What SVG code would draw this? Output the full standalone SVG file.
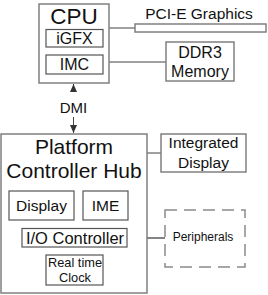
<svg xmlns="http://www.w3.org/2000/svg" width="268" height="295" viewBox="0 0 268 295">
<style>
.b{fill:#fff;stroke:#808080;stroke-width:1.5}
.i{fill:#fff;stroke:#555;stroke-width:1.2}
.t{font-family:"Liberation Sans",Arial,sans-serif;fill:#111;text-anchor:middle}
.c{stroke:#808080;stroke-width:1.5;fill:none}
</style>
<defs>
<marker id="ah" viewBox="0 0 8 8" refX="8" refY="4" markerWidth="8" markerHeight="8" markerUnits="userSpaceOnUse" orient="auto">
<path d="M0,0.5 L8,4 L0,7.5 Z" fill="#333"/>
</marker>
</defs>
<rect width="268" height="295" fill="#fff"/>
<g id="connectors">
<line class="c" x1="109" y1="28" x2="135" y2="28"/>
<line class="c" x1="109" y1="62" x2="166" y2="62"/>
<line class="c" x1="147" y1="153" x2="161" y2="153"/>
<line x1="147" y1="238" x2="165" y2="238" stroke="#333" stroke-width="1.2"/>
<line x1="73.5" y1="92" x2="73.5" y2="84" stroke="#444" stroke-width="1" marker-end="url(#ah)"/>
<line x1="73.5" y1="117" x2="73.5" y2="133" stroke="#444" stroke-width="1" marker-end="url(#ah)"/>
<text class="t" x="73.5" y="113" font-size="15">DMI</text>
</g>
<g id="cpu">
<rect class="b" x="39" y="4" width="70" height="79"/>
<text class="t" x="74" y="24" font-size="22.5">CPU</text>
</g>
<g id="igfx">
<rect class="i" x="46" y="29.5" width="57" height="17.5"/>
<text class="t" x="74.5" y="43.5" font-size="16">iGFX</text>
</g>
<g id="imc">
<rect class="i" x="46" y="55" width="57" height="19"/>
<text class="t" x="74.5" y="70" font-size="16">IMC</text>
</g>
<g id="pcie">
<rect class="b" x="135" y="24" width="131" height="8"/>
<text class="t" x="199" y="19" font-size="15.5">PCI-E Graphics</text>
</g>
<g id="ddr3">
<rect class="b" x="166" y="42" width="68" height="39"/>
<text class="t" x="200" y="58" font-size="16">DDR3</text>
<text class="t" x="200" y="77" font-size="16">Memory</text>
</g>
<g id="pch">
<rect class="b" x="1" y="134" width="146" height="159"/>
<text class="t" x="74" y="153.5" font-size="21">Platform</text>
<text class="t" x="74" y="177.5" font-size="21">Controller Hub</text>
</g>
<g id="intdisplay">
<rect class="b" x="161" y="134" width="85" height="38"/>
<text class="t" x="203.5" y="148" font-size="15.5">Integrated</text>
<text class="t" x="203.5" y="167.5" font-size="15.5">Display</text>
</g>
<g id="display">
<rect class="i" x="9" y="191" width="65" height="29"/>
<text class="t" x="41.5" y="211" font-size="15.5">Display</text>
</g>
<g id="ime">
<rect class="i" x="83" y="191" width="45" height="29"/>
<text class="t" x="105.5" y="211" font-size="15.5">IME</text>
</g>
<g id="io">
<rect class="i" x="22" y="228.5" width="105" height="18.5"/>
<text class="t" x="75" y="243.5" font-size="16.5">I/O Controller</text>
</g>
<g id="rtc">
<rect class="i" x="46" y="255" width="57" height="30"/>
<text class="t" x="75" y="267" font-size="12.8">Real time</text>
<text class="t" x="75" y="281.5" font-size="12.8">Clock</text>
</g>
<g id="peripherals">
<rect x="165" y="210" width="80" height="57" fill="none" stroke="#8a8a8a" stroke-width="1.5" stroke-dasharray="12,7"/>
<text class="t" x="203" y="241" font-size="12">Peripherals</text>
</g>
</svg>
